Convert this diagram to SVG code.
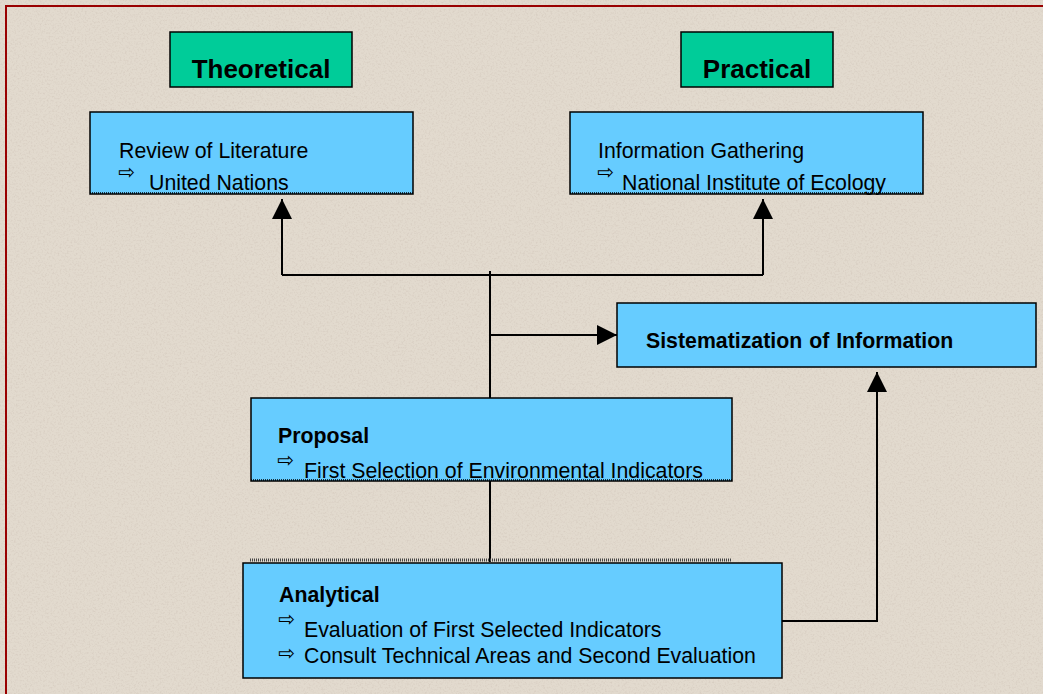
<svg xmlns="http://www.w3.org/2000/svg" width="1043" height="694" viewBox="0 0 1043 694">
  <defs>
    <filter id="grain" x="0" y="0" width="100%" height="100%">
      <feTurbulence type="fractalNoise" baseFrequency="0.55" numOctaves="2" seed="7"/>
      <feColorMatrix type="matrix" values="0 0 0 0 0.62  0 0 0 0 0.54  0 0 0 0 0.47  1.9 0 0 0 -0.88"/>
    </filter>
    <marker id="arrow" viewBox="0 0 20 20" refX="20" refY="10" markerWidth="20" markerHeight="20" markerUnits="userSpaceOnUse" orient="auto">
      <path d="M0,0 L20,10 L0,20 Z" fill="#000"/>
    </marker>
    <style>
      .bg { fill: #e2dace; }
      .frame { fill: none; stroke: #990000; stroke-width: 2; }
      .green { fill: #00cc99; stroke: #000; stroke-width: 1.5; }
      .blue { fill: #66ccff; stroke: #000; stroke-width: 1.5; }
      .dots { stroke: #000; stroke-width: 1.5; stroke-dasharray: 1 1; fill: none; }
      .band { stroke: #444; stroke-width: 3; stroke-dasharray: 1 1; fill: none; }
      .conn { fill: none; stroke: #000; stroke-width: 2; }
      .t { font-family: "Liberation Sans", Arial, sans-serif; fill: #000; font-size: 21.3px; }
      .b { font-weight: bold; }
      .head { font-family: "Liberation Sans", Arial, sans-serif; font-weight: bold; font-size: 26px; fill: #000; }
      .sym { font-family: "DejaVu Sans", sans-serif; font-size: 20px; fill: #000; }
    </style>
  </defs>

  <rect class="bg" x="0" y="0" width="1043" height="694"/>
  <rect x="0" y="0" width="1043" height="694" filter="url(#grain)" opacity="0.65"/>
  <rect class="frame" x="6" y="6" width="1100" height="800"/>

  <g id="connectors">
    <polyline class="conn" points="282,275 282,199" marker-end="url(#arrow)"/>
    <line class="conn" x1="282" y1="275" x2="763" y2="275"/>
    <polyline class="conn" points="763,275 763,199" marker-end="url(#arrow)"/>
    <line class="conn" x1="490" y1="271" x2="490" y2="398"/>
    <line class="conn" x1="490" y1="335" x2="617" y2="335" marker-end="url(#arrow)"/>
    <line class="conn" x1="490" y1="481" x2="490" y2="562"/>
    <polyline class="conn" points="782,621 877,621 877,372" marker-end="url(#arrow)"/>
  </g>

  <g id="theoretical">
    <rect class="green" x="170" y="32" width="182" height="55"/>
    <text class="head" x="261" y="78" text-anchor="middle">Theoretical</text>
  </g>

  <g id="practical">
    <rect class="green" x="681" y="32" width="152" height="55"/>
    <text class="head" x="757" y="78" text-anchor="middle">Practical</text>
  </g>

  <g id="review">
    <rect class="blue" x="90" y="112" width="323" height="82"/>
    <line class="dots" x1="90" y1="193" x2="413" y2="193"/>
    <text class="t" x="119" y="158">Review of Literature</text>
    <text class="sym" x="118" y="179">⇨</text>
    <text class="t" x="149" y="190">United Nations</text>
  </g>

  <g id="information">
    <rect class="blue" x="570" y="112" width="353" height="82"/>
    <line class="dots" x1="570" y1="193" x2="923" y2="193"/>
    <text class="t" x="598" y="158">Information Gathering</text>
    <text class="sym" x="597" y="179">⇨</text>
    <text class="t" x="622" y="190">National Institute of Ecology</text>
  </g>

  <g id="sistematization">
    <rect class="blue" x="617" y="303" width="419" height="64"/>
    <text class="t b" x="646" y="348" word-spacing="1">Sistematization of Information</text>
  </g>

  <g id="proposal">
    <rect class="blue" x="251" y="398" width="481" height="83"/>
    <line class="dots" x1="251" y1="480" x2="732" y2="480"/>
    <text class="t b" x="278" y="443">Proposal</text>
    <text class="sym" x="277" y="467">⇨</text>
    <text class="t" x="304" y="478">First Selection of Environmental Indicators</text>
  </g>

  <g id="analytical">
    <line class="band" x1="250" y1="560" x2="732" y2="560"/>
    <rect class="blue" x="243" y="563" width="539" height="115"/>
    <text class="t b" x="279" y="602">Analytical</text>
    <text class="sym" x="278" y="626">⇨</text>
    <text class="t" x="304" y="637">Evaluation of First Selected Indicators</text>
    <text class="sym" x="278" y="660">⇨</text>
    <text class="t" x="304" y="663">Consult Technical Areas and Second Evaluation</text>
  </g>
</svg>
